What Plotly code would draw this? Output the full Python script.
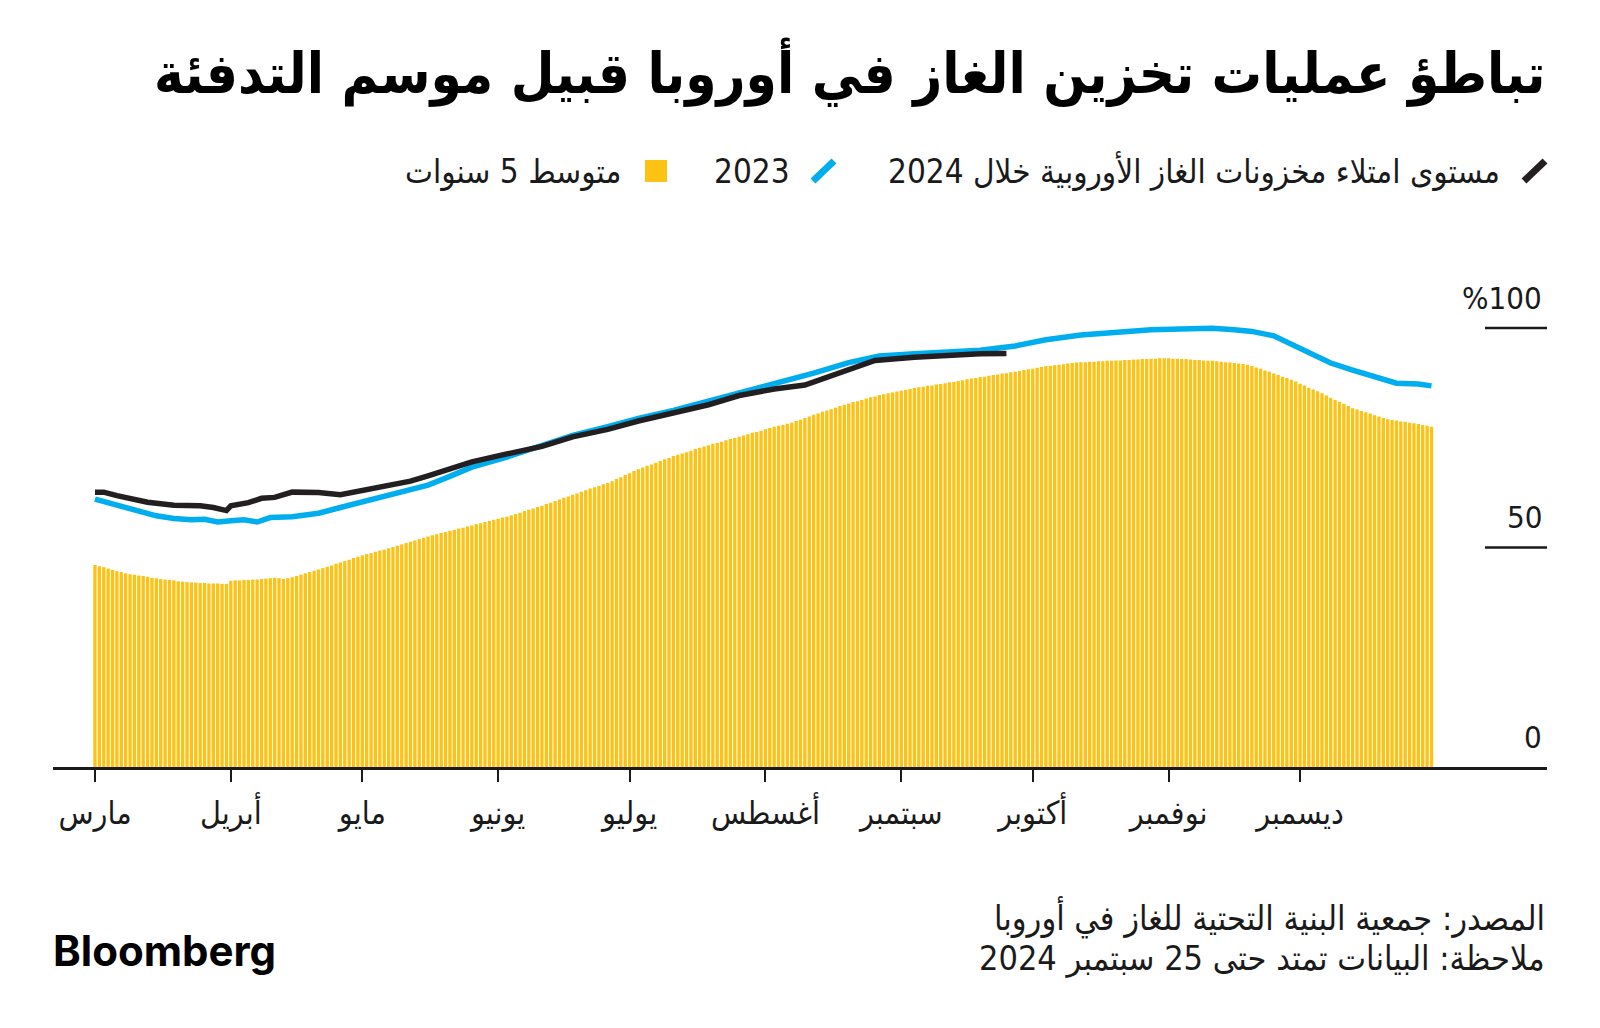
import pandas as pd
import plotly.graph_objects as go

W, H = 1600, 1028
ML, MR, MT, MB = 53, 53, 284, 261
PW, PH = W - ML - MR, H - MT - MB

FONT = "DejaVu Sans Condensed, DejaVu Sans, sans-serif"
INK = "#1a1a1a"
YELLOW = "#FDC214"
BLUE = "#00AEEF"
BLACK = "#231F20"

title_text = "تباطؤ عمليات تخزين الغاز في أوروبا قبيل موسم التدفئة"
legend_2024 = "مستوى امتلاء مخزونات الغاز الأوروبية خلال 2024"
legend_2023 = "2023"
legend_avg = "متوسط 5 سنوات"
source_text = "المصدر: جمعية البنية التحتية للغاز في أوروبا"
note_text = "ملاحظة: البيانات تمتد حتى 25 سبتمبر 2024"
logo_text = "Bloomberg"

month_ticks = ["2024-03-01", "2024-04-01", "2024-05-01", "2024-06-01", "2024-07-01",
               "2024-08-01", "2024-09-01", "2024-10-01", "2024-11-01", "2024-12-01"]
month_labels = ["مارس", "أبريل", "مايو", "يونيو", "يوليو",
                "أغسطس", "سبتمبر", "أكتوبر", "نوفمبر", "ديسمبر"]
y_ticks = [0, 50, 100]
y_labels = ["0", "50", "%100"]

# 5-year average, daily (Mar 1 - Dec 31), % full
avg5_mar = [46.0, 45.7, 45.5, 45.2, 44.9, 44.6, 44.4, 44.1, 43.9, 43.8, 43.6, 43.5, 43.3, 43.1, 43.0, 42.8,
            42.7, 42.6, 42.5, 42.3, 42.2, 42.1, 42.0, 42.0, 41.9, 41.9, 41.8, 41.8, 41.8, 41.7, 41.7]
avg5_apr = [42.4, 42.5, 42.5, 42.6, 42.6, 42.7, 42.7, 42.8, 42.9, 43.0, 43.1, 43.0, 42.8, 43.0, 43.2,
            43.5, 43.8, 44.1, 44.4, 44.7, 45.0, 45.3, 45.6, 45.9, 46.3, 46.6, 46.9, 47.2, 47.6, 47.9]
avg5_may = [48.2, 48.5, 48.7, 49.0, 49.3, 49.5, 49.8, 50.1, 50.4, 50.7, 51.0, 51.3, 51.6, 51.9, 52.2, 52.5,
            52.8, 53.0, 53.3, 53.5, 53.8, 54.0, 54.3, 54.5, 54.8, 55.0, 55.3, 55.5, 55.8, 56.0, 56.3]
avg5_jun = [56.5, 56.8, 57.0, 57.3, 57.6, 57.9, 58.3, 58.6, 58.9, 59.2, 59.5, 59.9, 60.2, 60.6, 60.9,
            61.3, 61.6, 62.0, 62.3, 62.7, 63.0, 63.4, 63.7, 64.0, 64.4, 64.7, 65.1, 65.6, 66.0, 66.5]
avg5_jul = [66.9, 67.4, 67.8, 68.2, 68.6, 68.9, 69.3, 69.7, 70.1, 70.4, 70.8, 71.1, 71.4, 71.7, 72.0, 72.4,
            72.7, 73.0, 73.3, 73.6, 73.8, 74.1, 74.4, 74.7, 74.9, 75.2, 75.5, 75.8, 76.1, 76.3, 76.6]
avg5_aug = [76.9, 77.2, 77.5, 77.7, 77.9, 78.2, 78.4, 78.8, 79.1, 79.5, 79.8, 80.2, 80.5, 80.9, 81.2, 81.5,
            81.8, 82.2, 82.5, 82.8, 83.1, 83.3, 83.6, 83.9, 84.2, 84.4, 84.7, 84.9, 85.1, 85.3, 85.5]
avg5_sep = [85.7, 85.9, 86.1, 86.3, 86.5, 86.6, 86.8, 86.9, 87.1, 87.2, 87.4, 87.6, 87.7, 87.9, 88.1,
            88.3, 88.5, 88.6, 88.8, 88.9, 89.1, 89.3, 89.4, 89.6, 89.7, 89.9, 90.0, 90.2, 90.4, 90.6]
avg5_oct = [90.7, 90.9, 91.1, 91.3, 91.4, 91.5, 91.6, 91.7, 91.9, 92.0, 92.1, 92.2, 92.2, 92.3, 92.3, 92.4,
            92.4, 92.5, 92.5, 92.6, 92.6, 92.7, 92.7, 92.8, 92.8, 92.9, 92.9, 93.0, 93.0, 93.1, 93.1]
avg5_nov = [93.1, 93.0, 93.0, 92.9, 92.9, 92.8, 92.7, 92.7, 92.6, 92.5, 92.5, 92.4, 92.3, 92.2, 92.1,
            92.0, 91.9, 91.8, 91.6, 91.3, 91.0, 90.7, 90.3, 90.0, 89.6, 89.3, 88.9, 88.6, 88.2, 87.8]
avg5_dec = [87.3, 86.9, 86.4, 86.0, 85.6, 85.1, 84.6, 84.1, 83.6, 83.2, 82.7, 82.2, 81.7, 81.4, 81.1, 80.8,
            80.5, 80.1, 79.8, 79.5, 79.2, 79.0, 78.9, 78.7, 78.6, 78.4, 78.3, 78.1, 77.9, 77.7, 77.5]
avg5 = (avg5_mar + avg5_apr + avg5_may + avg5_jun + avg5_jul +
        avg5_aug + avg5_sep + avg5_oct + avg5_nov + avg5_dec)
avg5_dates = pd.date_range("2024-03-01", periods=len(avg5), freq="D")

# 2023 storage level (plotted on the same calendar)
y2023_dates = ["2024-03-01", "2024-03-04", "2024-03-08", "2024-03-11", "2024-03-15", "2024-03-19",
               "2024-03-23", "2024-03-26", "2024-03-29", "2024-04-01", "2024-04-04", "2024-04-07",
               "2024-04-10", "2024-04-15", "2024-04-21", "2024-04-26", "2024-04-30", "2024-05-04",
               "2024-05-08", "2024-05-12", "2024-05-16", "2024-05-20", "2024-05-26", "2024-06-03",
               "2024-06-10", "2024-06-18", "2024-06-26", "2024-07-03", "2024-07-11", "2024-07-19",
               "2024-07-26", "2024-08-03", "2024-08-12", "2024-08-20", "2024-08-27", "2024-09-04",
               "2024-09-11", "2024-09-19", "2024-09-27", "2024-10-04", "2024-10-12", "2024-10-19",
               "2024-10-28", "2024-11-06", "2024-11-11", "2024-11-16", "2024-11-20", "2024-11-25",
               "2024-12-02", "2024-12-08", "2024-12-13", "2024-12-21", "2024-12-23", "2024-12-28",
               "2024-12-31"]
y2023_vals = [61.0, 60.2, 59.2, 58.2, 57.2, 56.6,
              56.3, 56.4, 55.8, 56.1, 56.3, 55.8,
              56.8, 57.0, 57.8, 59.1, 60.1, 61.0,
              62.1, 63.0, 64.2, 65.8, 68.3, 70.6,
              72.9, 75.5, 77.5, 79.4, 81.2, 83.3,
              85.3, 87.3, 89.7, 92.1, 93.6, 94.1,
              94.5, 94.9, 95.9, 97.3, 98.4, 99.0,
              99.6, 99.8, 99.9, 99.6, 99.2, 98.2,
              95.0, 92.0, 90.4, 88.2, 87.4, 87.2,
              86.8]

# 2024 storage level (to Sep 25)
y2024_dates = ["2024-03-01", "2024-03-03", "2024-03-06", "2024-03-08", "2024-03-13", "2024-03-19",
               "2024-03-25", "2024-03-28", "2024-03-31", "2024-04-01", "2024-04-05", "2024-04-08",
               "2024-04-11", "2024-04-15", "2024-04-21", "2024-04-26", "2024-04-30", "2024-05-04",
               "2024-05-08", "2024-05-12", "2024-05-16", "2024-05-20", "2024-05-26", "2024-06-03",
               "2024-06-07", "2024-06-11", "2024-06-18", "2024-06-26", "2024-07-03", "2024-07-11",
               "2024-07-19", "2024-07-26", "2024-08-03", "2024-08-10", "2024-08-18", "2024-08-26",
               "2024-09-04", "2024-09-11", "2024-09-19", "2024-09-25"]
y2024_vals = [62.6, 62.6, 61.8, 61.3, 60.3, 59.6,
              59.5, 59.1, 58.4, 59.5, 60.2, 61.2,
              61.4, 62.6, 62.5, 62.0, 62.7, 63.4,
              64.2, 65.1, 66.3, 67.6, 69.5, 71.3,
              72.0, 73.0, 75.2, 76.9, 78.8, 80.5,
              82.5, 84.6, 86.1, 87.0, 89.7, 92.6,
              93.3, 93.8, 94.1, 94.2]

Y_MAX = 110
X_RANGE = ["2024-02-20 09:58", "2025-01-26 08:38"]


def px_x(px):
    return (px - ML) / PW


def px_y(py):
    return (H - MB - py) / PH


fig = go.Figure()
fig.add_trace(go.Bar(x=avg5_dates, y=avg5, marker=dict(color=YELLOW, line=dict(width=0)),
                     name=legend_avg, hoverinfo="skip"))
fig.add_trace(go.Scatter(x=y2023_dates, y=y2023_vals, mode="lines",
                         line=dict(color=BLUE, width=5.5), name=legend_2023))
fig.add_trace(go.Scatter(x=y2024_dates, y=y2024_vals, mode="lines",
                         line=dict(color=BLACK, width=5.5), name=legend_2024))

shapes = []
annotations = []

# short right-hand gridlines and y labels
for v, lab in zip(y_ticks, y_labels):
    if v > 0:
        shapes.append(dict(type="line", xref="paper", yref="y", x0=px_x(1485), x1=1,
                           y0=v, y1=v, line=dict(color=INK, width=2.5)))
    annotations.append(dict(xref="paper", yref="y", x=px_x(1544), y=v, xanchor="right",
                            yanchor="bottom", yshift=10, text=lab, showarrow=False,
                            font=dict(family=FONT, size=31, color=INK)))

# title
annotations.append(dict(xref="paper", yref="paper", x=px_x(1547), y=px_y(72), xanchor="right",
                        yanchor="middle", text="<b>" + title_text + "</b>", showarrow=False,
                        font=dict(family=FONT, size=56, color="#000000")))

# legend
annotations.append(dict(xref="paper", yref="paper", x=px_x(1502), y=px_y(171), xanchor="right",
                        yanchor="middle", text=legend_2024, showarrow=False,
                        font=dict(family=FONT, size=33, color=INK)))
shapes.append(dict(type="line", xref="paper", yref="paper", x0=px_x(1524), y0=px_y(181),
                   x1=px_x(1545), y1=px_y(161), line=dict(color=BLACK, width=7)))
annotations.append(dict(xref="paper", yref="paper", x=px_x(792), y=px_y(171), xanchor="right",
                        yanchor="middle", text=legend_2023, showarrow=False,
                        font=dict(family=FONT, size=33, color=INK)))
shapes.append(dict(type="line", xref="paper", yref="paper", x0=px_x(813), y0=px_y(181),
                   x1=px_x(834), y1=px_y(161), line=dict(color=BLUE, width=7)))
annotations.append(dict(xref="paper", yref="paper", x=px_x(623), y=px_y(171), xanchor="right",
                        yanchor="middle", text=legend_avg, showarrow=False,
                        font=dict(family=FONT, size=33, color=INK)))
shapes.append(dict(type="rect", xref="paper", yref="paper", x0=px_x(645), y0=px_y(182),
                   x1=px_x(667), y1=px_y(160), line=dict(width=0), fillcolor=YELLOW))

# footer
annotations.append(dict(xref="paper", yref="paper", x=px_x(1547), y=px_y(917), xanchor="right",
                        yanchor="middle", text=source_text, showarrow=False,
                        font=dict(family=FONT, size=34, color=INK)))
annotations.append(dict(xref="paper", yref="paper", x=px_x(1547), y=px_y(959), xanchor="right",
                        yanchor="middle", text=note_text, showarrow=False,
                        font=dict(family=FONT, size=34, color=INK)))
annotations.append(dict(xref="paper", yref="paper", x=px_x(51), y=px_y(950), xanchor="left",
                        yanchor="middle", text="<b>" + logo_text + "</b>", showarrow=False,
                        font=dict(family="Inter, Liberation Sans, sans-serif", size=42, color="#000000")))

fig.update_layout(
    width=W, height=H,
    margin=dict(l=ML, r=MR, t=MT, b=MB, pad=0),
    paper_bgcolor="white", plot_bgcolor="white",
    showlegend=False, bargap=0.24,
    shapes=shapes, annotations=annotations,
    font=dict(family=FONT, color=INK),
)
fig.update_xaxes(
    type="date", range=X_RANGE, showgrid=False, zeroline=False,
    showline=True, linecolor=INK, linewidth=2.5,
    tickmode="array", tickvals=month_ticks, ticktext=month_labels,
    ticks="outside", ticklen=12, tickwidth=2, tickcolor=INK,
    tickfont=dict(family=FONT, size=32, color=INK), ticklabelstandoff=4,
)
fig.update_yaxes(range=[0, Y_MAX], showgrid=False, zeroline=False, showline=False,
                 showticklabels=False, ticks="")

fig.write_html("out.html")
